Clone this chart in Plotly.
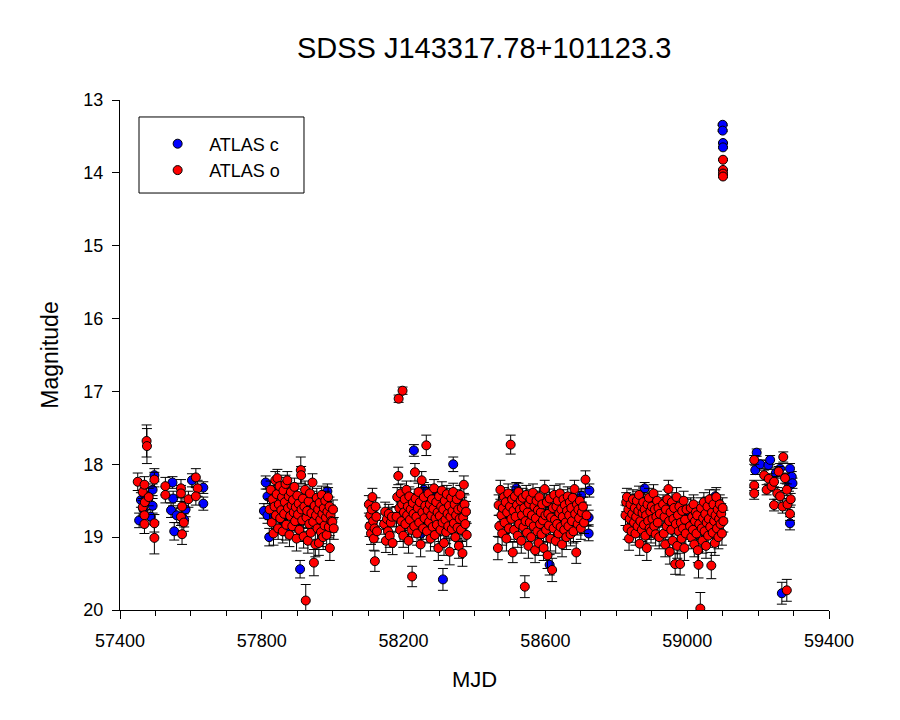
import plotly.graph_objects as go

# ---------------- data: (MJD, magnitude, error) ----------------
# ATLAS c (blue)
c_s1 = [(57454, 18.77, 0.10), (57459, 18.49, 0.10), (57466, 18.62, 0.12), (57470, 18.42, 0.10),
        (57487, 18.72, 0.10), (57492, 18.35, 0.08), (57492, 18.57, 0.10), (57497, 18.15, 0.09),
        (57544, 18.63, 0.10), (57548, 18.25, 0.08), (57550, 18.47, 0.10), (57553, 18.92, 0.12),
        (57560, 18.70, 0.10), (57581, 18.76, 0.10), (57585, 18.62, 0.10), (57603, 18.22, 0.09),
        (57635, 18.32, 0.08), (57635, 18.54, 0.09)]
c_s2 = [(57806, 18.64, 0.10), (57811, 18.25, 0.09), (57816, 18.44, 0.10), (57816, 18.70, 0.11),
        (57821, 19.00, 0.12), (57860, 18.78, 0.11), (57868, 18.92, 0.12), (57900, 18.86, 0.11),
        (57908, 19.44, 0.12), (57930, 18.55, 0.10), (57985, 18.37, 0.10)]
c_s3 = [(58229, 17.81, 0.08), (58250, 18.95, 0.12), (58257, 18.35, 0.10), (58280, 18.42, 0.10),
        (58300, 18.80, 0.12), (58311, 19.58, 0.15), (58340, 18.00, 0.10), (58365, 18.55, 0.10)]
c_s4 = [(58518, 18.33, 0.08), (58560, 18.62, 0.10), (58612, 19.38, 0.14), (58650, 18.75, 0.11),
        (58690, 18.55, 0.10), (58701, 18.43, 0.09), (58722, 18.73, 0.10), (58722, 18.95, 0.10),
        (58724, 18.36, 0.09)]
c_s5 = [(58849, 18.50, 0.09), (58870, 18.75, 0.10), (58880, 18.33, 0.08), (58900, 18.62, 0.10),
        (58945, 18.55, 0.10), (59000, 18.70, 0.11), (59060, 18.65, 0.10), (59079, 18.44, 0.09)]
c_burst = [(59100, 13.34, 0.01), (59100, 13.42, 0.01), (59101, 13.59, 0.01), (59101, 13.65, 0.01)]
c_s6 = [(59192, 18.08, 0.06), (59196, 17.84, 0.05), (59206, 18.00, 0.06), (59229, 18.01, 0.06),
        (59234, 17.94, 0.06), (59250, 18.12, 0.07), (59262, 18.06, 0.07), (59267, 19.77, 0.15),
        (59287, 18.30, 0.07), (59290, 18.06, 0.07), (59290, 18.81, 0.09), (59295, 18.17, 0.07),
        (59297, 18.26, 0.07)]

# ATLAS o (red)
o_s1 = [(57450, 18.24, 0.12), (57464, 18.38, 0.12), (57464, 18.59, 0.12), (57469, 18.28, 0.11),
        (57469, 18.70, 0.13), (57469, 18.82, 0.13), (57470, 18.52, 0.12), (57475, 17.68, 0.22),
        (57476, 17.75, 0.24), (57481, 18.45, 0.12), (57497, 18.21, 0.10), (57497, 18.81, 0.12),
        (57497, 19.01, 0.22), (57528, 18.30, 0.12), (57528, 18.42, 0.11), (57572, 18.33, 0.12),
        (57572, 18.40, 0.11), (57575, 18.58, 0.12), (57572, 18.72, 0.12), (57575, 18.96, 0.14),
        (57580, 18.80, 0.12), (57593, 18.48, 0.11), (57614, 18.18, 0.12), (57619, 18.33, 0.11),
        (57614, 18.44, 0.12)]
o_s2 = [(57822, 18.62, 0.14), (57825, 18.35, 0.12), (57828, 18.80, 0.15), (57830, 18.48, 0.13),
        (57833, 18.95, 0.16), (57836, 18.58, 0.13), (57838, 18.22, 0.12), (57840, 18.70, 0.14),
        (57842, 18.41, 0.12), (57844, 18.19, 0.12), (57846, 18.88, 0.15), (57848, 18.55, 0.13),
        (57850, 18.30, 0.12), (57852, 18.74, 0.14), (57855, 18.63, 0.14), (57857, 18.45, 0.13),
        (57859, 18.92, 0.16), (57861, 18.36, 0.12), (57863, 18.68, 0.14), (57865, 18.52, 0.13),
        (57867, 18.27, 0.12), (57869, 18.83, 0.15), (57872, 18.22, 0.12), (57874, 18.60, 0.14),
        (57876, 18.44, 0.13), (57878, 18.97, 0.16), (57880, 18.71, 0.14), (57882, 18.38, 0.12),
        (57884, 18.56, 0.13), (57886, 18.85, 0.15), (57888, 18.49, 0.13), (57890, 18.66, 0.14),
        (57892, 18.31, 0.12), (57894, 18.78, 0.15), (57896, 18.59, 0.13), (57898, 19.02, 0.17),
        (57900, 18.43, 0.13), (57902, 18.69, 0.14), (57904, 18.54, 0.13), (57906, 18.90, 0.16),
        (57910, 18.08, 0.18), (57911, 18.15, 0.12), (57912, 18.62, 0.14), (57914, 18.77, 0.15),
        (57916, 18.47, 0.13), (57918, 18.99, 0.16), (57920, 18.58, 0.13), (57922, 18.35, 0.12),
        (57924, 19.87, 0.22), (57926, 18.73, 0.14), (57928, 18.64, 0.14), (57930, 19.05, 0.17),
        (57932, 18.51, 0.13), (57934, 18.82, 0.15), (57936, 18.40, 0.12), (57938, 18.94, 0.16),
        (57940, 18.67, 0.14), (57943, 18.25, 0.12), (57945, 18.79, 0.15), (57947, 19.35, 0.18),
        (57949, 18.57, 0.13), (57951, 19.10, 0.17), (57953, 18.70, 0.14), (57955, 18.46, 0.13),
        (57957, 18.88, 0.15), (57959, 18.62, 0.14), (57961, 19.08, 0.17), (57963, 18.53, 0.13),
        (57965, 18.76, 0.15), (57967, 18.93, 0.16), (57969, 18.42, 0.12), (57971, 18.68, 0.14),
        (57973, 19.00, 0.17), (57975, 18.60, 0.14), (57977, 18.84, 0.15), (57979, 18.50, 0.13),
        (57981, 18.73, 0.14), (57983, 18.97, 0.16), (57985, 18.65, 0.14), (57987, 18.45, 0.13),
        (57989, 18.86, 0.15), (57991, 18.58, 0.13), (57992, 19.15, 0.17), (57994, 18.70, 0.14),
        (57996, 18.78, 0.15), (57999, 18.79, 0.14), (58001, 18.62, 0.13), (58003, 18.88, 0.15)]
o_s3 = [(58102, 18.55, 0.12), (58104, 18.85, 0.14), (58106, 18.70, 0.13), (58108, 18.95, 0.15),
        (58110, 18.62, 0.13), (58112, 18.45, 0.12), (58114, 18.78, 0.14), (58116, 19.02, 0.16),
        (58118, 18.88, 0.14), (58119, 19.33, 0.14), (58121, 18.58, 0.12), (58123, 18.72, 0.13),
        (58125, 18.92, 0.15), (58145, 18.82, 0.14), (58148, 18.65, 0.13), (58150, 19.05, 0.16),
        (58153, 18.75, 0.14), (58156, 18.92, 0.15), (58158, 18.68, 0.13), (58161, 18.98, 0.16),
        (58164, 18.80, 0.14), (58167, 18.72, 0.13), (58169, 19.08, 0.16),
        (58180, 18.72, 0.14), (58182, 18.45, 0.13), (58185, 18.16, 0.12), (58186, 17.10, 0.05),
        (58188, 18.60, 0.14), (58190, 18.90, 0.16), (58192, 18.40, 0.13), (58194, 18.78, 0.15),
        (58196, 18.55, 0.13), (58197, 16.99, 0.05), (58199, 18.98, 0.16), (58201, 18.66, 0.14),
        (58203, 18.48, 0.13), (58205, 18.82, 0.15), (58208, 18.35, 0.12), (58210, 18.70, 0.14),
        (58212, 18.58, 0.13), (58214, 19.05, 0.17), (58216, 18.44, 0.13), (58218, 18.76, 0.15),
        (58220, 18.62, 0.14), (58222, 18.90, 0.16), (58224, 19.54, 0.14), (58226, 18.53, 0.13),
        (58228, 18.68, 0.14), (58230, 18.85, 0.15), (58232, 18.11, 0.12), (58234, 18.47, 0.13),
        (58236, 18.72, 0.14), (58238, 18.95, 0.16), (58240, 18.60, 0.14), (58242, 18.38, 0.12),
        (58244, 18.80, 0.15), (58246, 18.52, 0.13), (58248, 19.10, 0.17), (58251, 18.22, 0.12),
        (58253, 18.66, 0.14), (58255, 18.88, 0.15), (58257, 18.45, 0.13), (58259, 18.74, 0.14),
        (58261, 18.57, 0.13), (58264, 17.74, 0.14), (58266, 18.92, 0.16), (58268, 18.63, 0.14),
        (58270, 18.40, 0.12), (58272, 18.79, 0.15), (58274, 18.55, 0.13), (58276, 19.02, 0.17),
        (58278, 18.70, 0.14), (58280, 18.48, 0.13), (58282, 18.86, 0.15), (58284, 18.61, 0.14),
        (58286, 18.33, 0.12), (58288, 18.97, 0.16), (58290, 18.74, 0.14), (58292, 18.52, 0.13),
        (58294, 18.83, 0.15), (58296, 18.66, 0.14), (58298, 19.15, 0.17), (58300, 18.44, 0.13),
        (58302, 18.71, 0.14), (58304, 18.90, 0.16), (58306, 18.58, 0.13), (58308, 18.36, 0.12),
        (58310, 18.80, 0.15), (58312, 18.62, 0.14), (58314, 19.08, 0.17), (58316, 18.50, 0.13),
        (58318, 18.76, 0.14), (58320, 18.93, 0.16), (58322, 18.41, 0.12), (58324, 18.68, 0.14),
        (58326, 18.85, 0.15), (58328, 18.57, 0.13), (58330, 19.20, 0.18), (58332, 18.72, 0.14),
        (58334, 18.46, 0.13), (58336, 18.89, 0.15), (58338, 18.64, 0.14), (58340, 18.38, 0.12),
        (58342, 18.81, 0.15), (58344, 18.55, 0.13), (58346, 19.00, 0.17), (58348, 18.70, 0.14),
        (58350, 18.48, 0.13), (58352, 18.87, 0.15), (58354, 18.62, 0.14), (58356, 19.12, 0.17),
        (58358, 18.75, 0.14), (58360, 18.42, 0.13), (58362, 18.90, 0.16), (58364, 18.60, 0.14),
        (58366, 19.22, 0.18), (58368, 18.73, 0.14), (58370, 18.28, 0.12), (58372, 18.55, 0.13),
        (58374, 18.82, 0.15), (58376, 18.65, 0.14), (58378, 18.97, 0.16)]
o_s4 = [(58466, 19.15, 0.16), (58468, 18.56, 0.14), (58470, 18.85, 0.15), (58473, 18.35, 0.13),
        (58476, 18.70, 0.14), (58478, 18.95, 0.16), (58480, 18.60, 0.14), (58483, 18.45, 0.13),
        (58485, 18.80, 0.15), (58488, 18.52, 0.13), (58490, 19.02, 0.17), (58492, 18.66, 0.14),
        (58495, 18.40, 0.13), (58497, 18.88, 0.15), (58500, 18.58, 0.13), (58502, 17.73, 0.13),
        (58504, 18.75, 0.14), (58506, 18.48, 0.13), (58508, 19.21, 0.14), (58510, 18.64, 0.14),
        (58512, 18.90, 0.16), (58514, 18.44, 0.13), (58516, 18.72, 0.14), (58520, 18.56, 0.13),
        (58522, 18.98, 0.16), (58524, 18.38, 0.12), (58526, 18.82, 0.15), (58528, 18.62, 0.14),
        (58530, 18.50, 0.13), (58532, 19.05, 0.17), (58534, 18.70, 0.14), (58536, 18.46, 0.13),
        (58538, 18.86, 0.15), (58540, 18.60, 0.14), (58542, 19.68, 0.15), (58544, 18.78, 0.15),
        (58546, 18.42, 0.13), (58548, 18.94, 0.16), (58550, 18.66, 0.14), (58552, 19.12, 0.17),
        (58554, 18.54, 0.13), (58556, 18.80, 0.15), (58558, 18.48, 0.13), (58560, 19.00, 0.17),
        (58562, 18.70, 0.14), (58565, 18.39, 0.12), (58567, 18.85, 0.15), (58569, 18.58, 0.13),
        (58571, 19.18, 0.17), (58573, 18.74, 0.14), (58575, 18.50, 0.13), (58577, 18.92, 0.16),
        (58579, 18.63, 0.14), (58581, 19.08, 0.17), (58583, 18.45, 0.13), (58585, 18.82, 0.15),
        (58587, 18.66, 0.14), (58589, 18.96, 0.16), (58591, 18.55, 0.13), (58593, 18.77, 0.15),
        (58595, 19.15, 0.17), (58598, 18.34, 0.12), (58600, 18.70, 0.14), (58602, 18.90, 0.16),
        (58604, 18.52, 0.13), (58606, 19.25, 0.18), (58608, 18.68, 0.14), (58610, 18.84, 0.15),
        (58612, 18.47, 0.13), (58614, 19.02, 0.17), (58616, 18.73, 0.14), (58619, 19.45, 0.16),
        (58621, 18.60, 0.14), (58623, 18.88, 0.15), (58625, 18.42, 0.13), (58627, 18.76, 0.14),
        (58629, 19.05, 0.17), (58631, 18.58, 0.13), (58633, 18.82, 0.15), (58635, 18.50, 0.13),
        (58637, 18.95, 0.16), (58639, 18.67, 0.14), (58641, 18.40, 0.13), (58643, 18.86, 0.15),
        (58645, 18.62, 0.14), (58647, 19.10, 0.17), (58649, 18.72, 0.14), (58651, 18.48, 0.13),
        (58653, 18.90, 0.16), (58655, 18.56, 0.13), (58657, 18.80, 0.15), (58659, 19.00, 0.17),
        (58661, 18.64, 0.14), (58663, 18.44, 0.13), (58665, 18.85, 0.15), (58667, 18.70, 0.14),
        (58669, 18.52, 0.13), (58671, 18.96, 0.16), (58673, 18.60, 0.14), (58675, 18.78, 0.15),
        (58677, 18.46, 0.13), (58679, 18.92, 0.16), (58682, 18.34, 0.12), (58684, 18.68, 0.14),
        (58687, 19.21, 0.15), (58689, 18.55, 0.13), (58691, 18.82, 0.15), (58693, 18.62, 0.14),
        (58695, 18.74, 0.14), (58697, 18.50, 0.13), (58700, 18.88, 0.15), (58703, 18.66, 0.14),
        (58706, 18.58, 0.13), (58709, 18.80, 0.15), (58713, 18.21, 0.12), (58716, 18.70, 0.14)]
o_s5 = [(58826, 18.70, 0.14), (58828, 18.52, 0.13), (58830, 18.45, 0.12), (58832, 18.88, 0.15),
        (58834, 18.62, 0.14), (58836, 19.02, 0.16), (58838, 18.75, 0.14), (58840, 18.55, 0.13),
        (58843, 18.92, 0.15), (58845, 18.68, 0.14), (58847, 18.48, 0.13), (58850, 18.80, 0.15),
        (58852, 18.60, 0.14), (58854, 18.95, 0.16), (58856, 18.72, 0.14), (58858, 18.50, 0.13),
        (58860, 18.85, 0.15), (58862, 18.64, 0.14), (58864, 18.42, 0.12), (58866, 19.09, 0.16),
        (58868, 18.78, 0.15), (58870, 18.58, 0.13), (58872, 18.90, 0.16), (58874, 18.67, 0.14),
        (58876, 18.52, 0.13), (58878, 18.83, 0.15), (58880, 18.62, 0.14), (58882, 18.98, 0.16),
        (58884, 18.70, 0.14), (58886, 19.15, 0.17), (58888, 18.55, 0.13), (58890, 18.78, 0.15),
        (58892, 18.46, 0.13), (58894, 18.88, 0.15), (58896, 18.65, 0.14), (58898, 18.92, 0.16),
        (58900, 18.58, 0.13), (58902, 18.75, 0.14), (58905, 18.40, 0.12), (58907, 18.85, 0.15),
        (58909, 18.62, 0.14), (58911, 18.96, 0.16), (58913, 18.72, 0.14), (58915, 18.50, 0.13),
        (58917, 18.80, 0.15), (58919, 18.60, 0.14), (58921, 19.00, 0.16), (58923, 18.68, 0.14),
        (58932, 18.55, 0.13), (58934, 18.95, 0.16), (58936, 18.72, 0.14), (58938, 19.10, 0.17),
        (58940, 18.62, 0.14), (58942, 18.85, 0.15), (58944, 18.48, 0.13), (58947, 18.34, 0.12),
        (58949, 18.78, 0.15), (58951, 19.20, 0.17), (58953, 18.66, 0.14), (58955, 18.90, 0.16),
        (58957, 18.52, 0.13), (58959, 19.05, 0.17), (58961, 18.75, 0.14), (58963, 18.60, 0.14),
        (58966, 19.37, 0.14), (58968, 18.82, 0.15), (58970, 18.45, 0.13), (58972, 19.12, 0.17),
        (58974, 18.70, 0.14), (58976, 18.92, 0.16), (58978, 18.58, 0.13), (58980, 19.37, 0.15),
        (58982, 18.80, 0.15), (58984, 19.02, 0.17), (58986, 18.64, 0.14), (58988, 18.88, 0.15),
        (58990, 18.50, 0.13), (58992, 19.15, 0.17), (58994, 18.76, 0.15), (58996, 18.95, 0.16),
        (58998, 18.62, 0.14),
        (59008, 18.85, 0.15), (59010, 18.60, 0.14), (59012, 19.00, 0.16), (59014, 18.72, 0.14),
        (59016, 18.90, 0.16), (59018, 18.55, 0.13), (59020, 19.10, 0.17), (59022, 18.78, 0.15),
        (59024, 18.66, 0.14), (59026, 18.95, 0.16), (59028, 18.70, 0.14), (59030, 19.18, 0.17),
        (59032, 19.38, 0.18), (59034, 18.82, 0.15), (59037, 19.98, 0.22), (59039, 18.60, 0.14),
        (59041, 18.88, 0.15), (59043, 19.05, 0.17), (59045, 18.74, 0.14), (59047, 18.52, 0.13),
        (59049, 18.92, 0.16), (59051, 18.68, 0.14), (59053, 19.12, 0.17), (59055, 18.80, 0.15),
        (59057, 18.58, 0.13), (59059, 18.98, 0.16), (59061, 18.75, 0.14), (59063, 18.48, 0.13),
        (59065, 18.86, 0.15), (59068, 19.39, 0.18), (59070, 18.66, 0.14), (59072, 18.94, 0.16),
        (59074, 18.55, 0.13), (59076, 18.78, 0.15), (59078, 19.08, 0.17), (59080, 18.70, 0.14),
        (59082, 18.45, 0.13), (59084, 18.88, 0.15), (59086, 18.62, 0.14), (59088, 19.00, 0.16),
        (59090, 18.75, 0.14), (59092, 18.55, 0.13), (59094, 18.82, 0.15), (59096, 18.68, 0.14),
        (59098, 18.95, 0.16), (59100, 18.60, 0.14), (59102, 18.78, 0.15)]
o_burst = [(59101, 13.82, 0.01), (59101, 13.96, 0.01), (59101, 14.01, 0.01), (59101, 14.05, 0.01)]
o_s6 = [(59189, 17.94, 0.06), (59189, 18.29, 0.07), (59189, 18.40, 0.08), (59217, 18.15, 0.07),
        (59224, 18.35, 0.07), (59230, 18.20, 0.07), (59238, 18.30, 0.07), (59245, 18.24, 0.07),
        (59245, 18.56, 0.08), (59254, 18.40, 0.08), (59258, 18.10, 0.07), (59262, 18.44, 0.08),
        (59269, 18.58, 0.09), (59271, 17.90, 0.07), (59276, 18.19, 0.07), (59281, 18.35, 0.08),
        (59283, 18.55, 0.08), (59290, 18.68, 0.09), (59292, 18.48, 0.08), (59281, 19.73, 0.15)]

title_text = "SDSS J143317.78+101123.3"
x_title = "MJD"
y_title = "Magnitude"
series_names = ["ATLAS c", "ATLAS o"]

c_all = c_s1 + c_s2 + c_s3 + c_s4 + c_s5 + c_burst + c_s6
o_all = o_s1 + o_s2 + o_s3 + o_s4 + o_s5 + o_burst + o_s6

FONT = "Arial, 'Liberation Sans', sans-serif"

def trace(data, name, color):
    return go.Scatter(
        x=[d[0] for d in data], y=[d[1] for d in data],
        mode="markers", name=name,
        marker=dict(color=color, size=9, line=dict(color="black", width=1)),
        error_y=dict(type="data", array=[d[2] for d in data], color="black",
                     thickness=1, width=5),
    )

fig = go.Figure()
fig.add_trace(trace(c_all, series_names[0], "#0000FF"))
fig.add_trace(trace(o_all, series_names[1], "#FF0000"))

fig.update_layout(
    width=900, height=720,
    paper_bgcolor="white", plot_bgcolor="white",
    margin=dict(l=112, r=79, t=92, b=118),
    font=dict(family=FONT, color="black", size=18),
    title=dict(text=title_text, x=0.529, xanchor="center", y=0.944, yanchor="middle",
               font=dict(size=29, family=FONT)),
    showlegend=True,
    legend=dict(x=0.027, y=0.950, xanchor="left", yanchor="top",
                borderwidth=0, bgcolor="rgba(0,0,0,0)",
                font=dict(size=18, family=FONT), indentation=7, itemwidth=53,
                tracegroupgap=0),
    shapes=[dict(type="rect", xref="paper", yref="paper",
                 x0=0.0268, x1=0.2595, y0=0.8176, y1=0.9667,
                 line=dict(color="black", width=1), fillcolor="white", layer="above")],
    xaxis=dict(range=[57400, 59400], tick0=57400, dtick=400, tickformat="d",
               ticks="outside", ticklen=8, tickwidth=1, tickcolor="black",
               ticklabelstandoff=6,
               minor=dict(dtick=100, ticklen=5, ticks="outside", tickcolor="black"),
               showline=True, linecolor="black", linewidth=1, showgrid=False,
               zeroline=False, tickfont=dict(size=18),
               title=dict(text=x_title, standoff=22, font=dict(size=22))),
    yaxis=dict(range=[20, 13], dtick=1, tickformat="d", ticks="outside", ticklen=7,
               tickwidth=1, ticklabelstandoff=5,
               tickcolor="black", showline=True, linecolor="black", linewidth=1,
               showgrid=False, zeroline=False, tickfont=dict(size=18),
               title=dict(text=y_title, standoff=18, font=dict(size=23))),
    xaxis2=dict(range=[57400, 59400], overlaying="x", side="top", anchor="y",
                tick0=57400, dtick=100, ticks="inside", ticklen=4, tickcolor="black",
                showticklabels=False, showline=True, linecolor="black", linewidth=1,
                showgrid=False, zeroline=False),
    yaxis2=dict(range=[20, 13], overlaying="y", side="right", anchor="x",
                dtick=1, ticks="inside", ticklen=6, tickcolor="black",
                showticklabels=False, showline=True, linecolor="black", linewidth=1,
                showgrid=False, zeroline=False),
)

fig.write_html("out.html")
